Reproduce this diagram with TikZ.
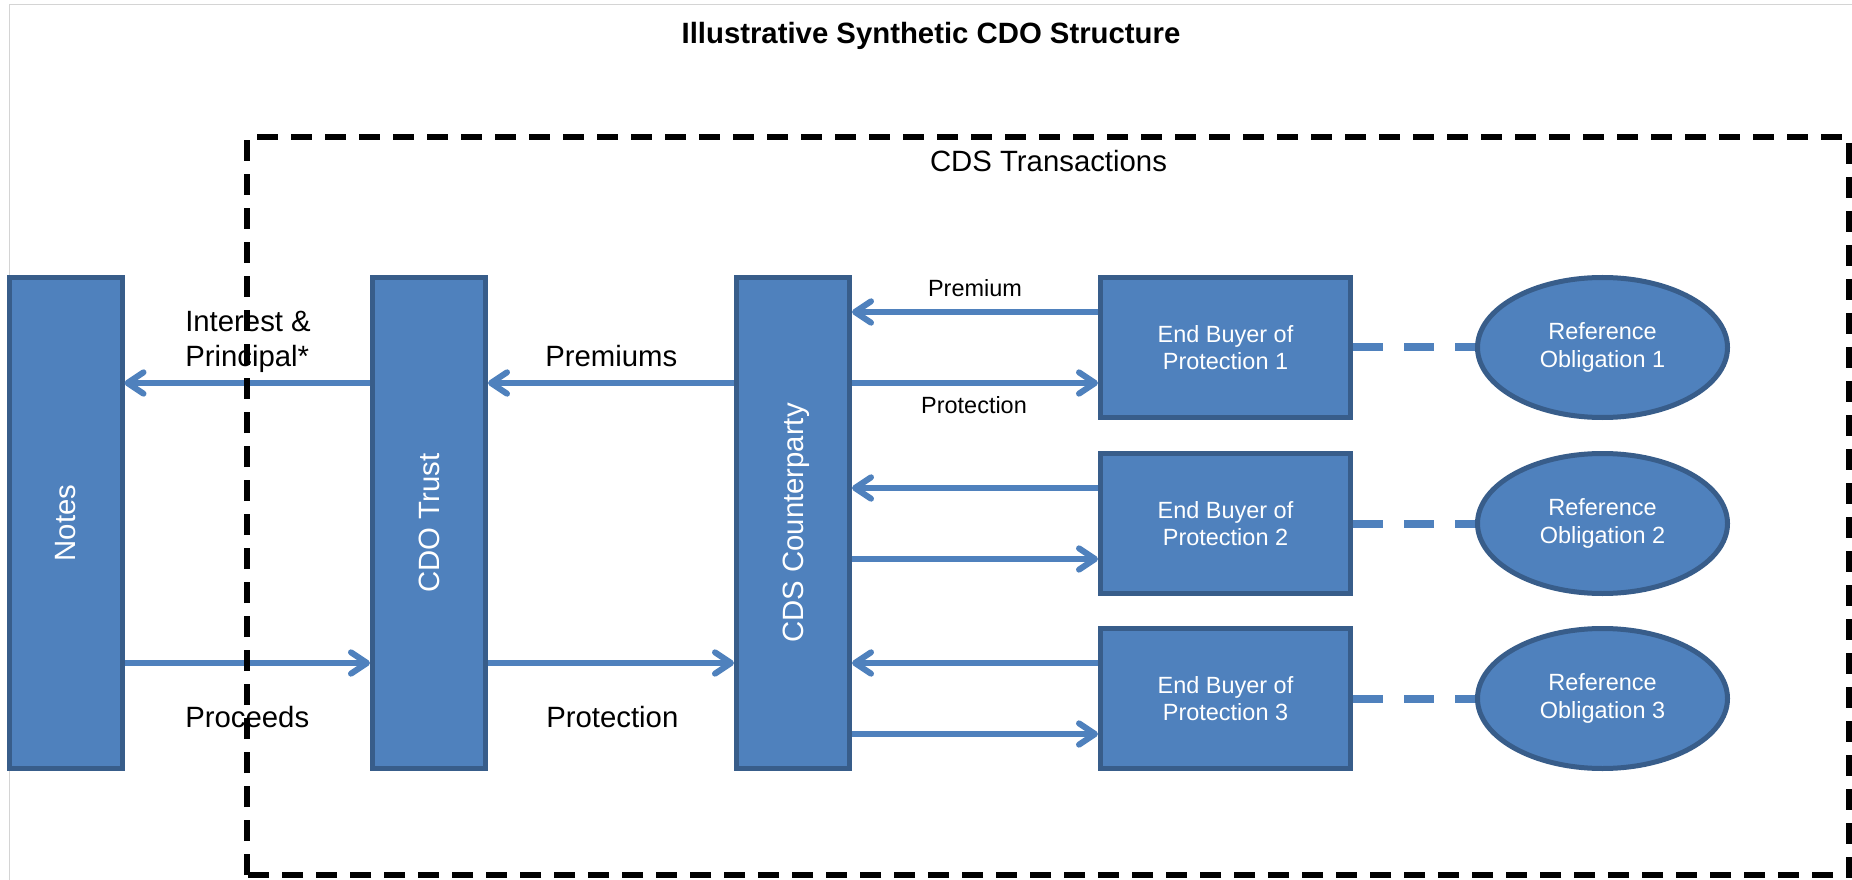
\documentclass[tikz,border=0pt]{standalone}
\usepackage{fontspec}
\setmainfont{Liberation Sans}
\usetikzlibrary{arrows.meta,calc,shapes.geometric}
\definecolor{bfill}{HTML}{4F81BD}
\definecolor{bline}{HTML}{385D8A}
\definecolor{framegrey}{HTML}{D4D4D4}
\begin{document}
\begin{tikzpicture}[x=0.75pt,y=-0.75pt,
  box/.style={draw=bline, fill=bfill, line width=3.75pt, inner sep=0pt},
  tall/.style={box, minimum width=84.75pt, minimum height=368.25pt},
  buyer/.style={box, minimum width=187.5pt, minimum height=105pt},
  refob/.style={box, ellipse, minimum width=187.5pt, minimum height=105pt},
  vtext/.style={text=white, font=\fontsize{22}{25}\selectfont, rotate=90, inner sep=0pt, text depth=0pt},
  wtext/.style={text=white, font=\fontsize{17.6}{20.6}\selectfont, align=center},
  big/.style={font=\fontsize{22}{25.5}\selectfont, inner sep=0pt},
  small/.style={font=\fontsize{17.6}{20.6}\selectfont, inner sep=0pt},
  arr/.style={draw=bfill, line width=4.5pt, -{Straight Barb[length=12pt,width=16pt,line cap=round,line join=round]}},
  link/.style={draw=bfill, line width=6pt, dash pattern=on 22.5pt off 15.75pt},
  cdsbox/.style={draw=black, line width=4.9pt, dash pattern=on 15.75pt off 9.75pt}
]
\useasboundingbox (0,0) rectangle (1852,880);
\fill[white] (0,0) rectangle (1852,880);
\draw[framegrey, line width=0.9pt] (9.7,880) -- (9.7,4.3) -- (1852,4.3);

% title
\node[anchor=base, inner sep=0pt, font=\bfseries\fontsize{22}{26}\selectfont] (title) at (931,44) {Illustrative Synthetic CDO Structure};

% tall boxes
\node[tall] (notes) at (65.5,523) {};
\node[tall] (trust) at (429,523) {};
\node[tall] (cp) at (793,523) {};
\node[vtext] (tnotes) at (notes.center) {Notes};
\node[vtext] (ttrust) at (trust.center) {CDO Trust};
\node[vtext] (tcp) at (cp.center) {CDS Counterparty};

% buyers and reference obligations
\foreach \i/\y in {1/347.5,2/523.5,3/698.5} {
  \node[buyer, wtext] (eb\i) at (1225.5,\y) {End Buyer of\\Protection \i};
  \node[refob, wtext] (ro\i) at (1602.5,\y) {Reference\\Obligation \i};
}

% arrows between tall boxes
\draw[arr] ($(trust.west)+(0,-140)$) -- ($(notes.east)+(0,-140)$);
\draw[arr] ($(notes.east)+(0,140)$) -- ($(trust.west)+(0,140)$);
\draw[arr] ($(cp.west)+(0,-140)$) -- ($(trust.east)+(0,-140)$);
\draw[arr] ($(trust.east)+(0,140)$) -- ($(cp.west)+(0,140)$);

% arrows to buyers and links
\foreach \i in {1,2,3} {
  \draw[arr] ($(eb\i.west)+(0,-35.5)$) -- ($(cp.east |- eb\i.west)+(0,-35.5)$);
  \draw[arr] ($(cp.east |- eb\i.west)+(0,35.5)$) -- ($(eb\i.west)+(0,35.5)$);
  \draw[link] (eb\i.east) -- (ro\i.west);
}

% labels
\node[big, anchor=base west] (lint) at (185,332) {Interest \&};
\node[big, anchor=base west] (lprin) at (185,367) {Principal*};
\node[big, anchor=base west] (lprem) at (545,367) {Premiums};
\node[big, anchor=base west] (lproc) at (185,727) {Proceeds};
\node[big, anchor=base west] (lprot) at (546,727) {Protection};
\node[small, anchor=base] (lprem1) at (975,297) {Premium};
\node[small, anchor=base] (lprot1) at (974,413) {Protection};
\node[big, anchor=base] (lcds) at (1048.5,172) {CDS Transactions};

% CDS transactions dashed area
\draw[cdsbox] (247,875) -- (247,137) -- (1849,137) -- (1849,875) -- cycle;
\end{tikzpicture}
\end{document}
